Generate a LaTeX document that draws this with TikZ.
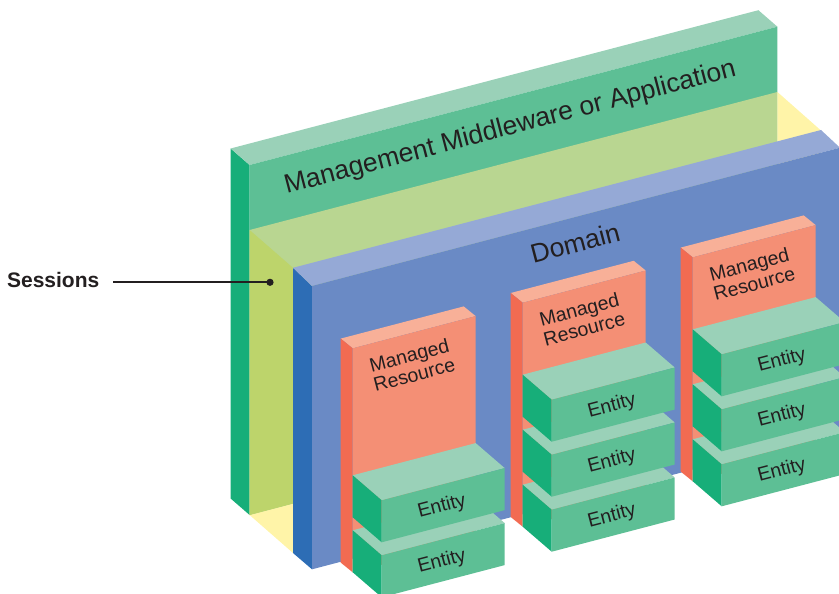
\documentclass[tikz,border=0pt]{standalone}
\usepackage{fontspec}
\setmainfont{Liberation Sans}
\definecolor{gfront}{HTML}{5DBF95}
\definecolor{gtop}{HTML}{9AD1B8}
\definecolor{gside}{HTML}{17AE79}
\definecolor{band}{HTML}{B9D691}
\definecolor{strip}{HTML}{BDD46B}
\definecolor{ylw}{HTML}{FFF4A8}
\definecolor{bfront}{HTML}{6A8AC5}
\definecolor{btop}{HTML}{95A9D6}
\definecolor{bside}{HTML}{2D6DB5}
\definecolor{rfront}{HTML}{F48F75}
\definecolor{rtop}{HTML}{F8B098}
\definecolor{rside}{HTML}{F26B52}
\definecolor{ink}{HTML}{231F20}
\tikzset{
  biglabel/.style={text=ink, inner sep=0pt, rotate=14.7, anchor=base, font=\fontsize{26.5pt}{28pt}\selectfont},
  entlabel/.style={text=ink, inner sep=0pt, rotate=14.7, anchor=base, font=\fontsize{19.5pt}{20pt}\selectfont},
  mrlabel/.style={text=ink, inner sep=0pt, rotate=14.7, anchor=center, align=center, font=\fontsize{19.5pt}{20pt}\selectfont},
  sesslabel/.style={text=ink, inner sep=0pt, anchor=base, font=\fontsize{21pt}{23pt}\selectfont\bfseries},
}
% managed resource: #1 name, (#2,#3) front top-left corner
\newcommand\mrbox[3]{%
  \begin{scope}[shift={(#2,#3)}]
    \fill[rtop] (-12,-9.7) -- ++(123,-32.2) -- ++(12,9.7) -- ++(-123,32.2) -- cycle;
    \fill[rside] (-12,-9.7) -- ++(12,9.7) -- ++(0,224) -- ++(-12,-9.7) -- cycle;
    \fill[rfront] (0,0) -- ++(123,-32.2) -- ++(0,224) -- ++(-123,32.2) -- cycle;
    \node[mrlabel] (#1) at (59,16.5) {Managed\\Resource};
  \end{scope}}
% entity: #1 name, (#2,#3) back top-left corner
\newcommand\entitybox[3]{%
  \begin{scope}[shift={(#2,#3)}]
    \fill[gtop] (0,0) -- ++(123,-32.2) -- ++(29,25) -- ++(-123,32.2) -- cycle;
    \fill[gside] (0,0) -- ++(29,25) -- ++(0,42) -- ++(-29,-25) -- cycle;
    \fill[gfront] (29,25) -- ++(123,-32.2) -- ++(0,42) -- ++(-123,32.2) -- cycle;
    \node[entlabel] (#1) at (90.5,36.5) {Entity};
  \end{scope}}
\begin{document}
\begin{tikzpicture}[x=1pt,y=-1pt]
\useasboundingbox (0,0) rectangle (839,594);
% Management middleware slab
\fill[gside] (230.6,148.5) -- (249.6,165) -- (249.6,515) -- (230.6,498.5) -- cycle;
\fill[gtop] (230.6,148.5) -- (758.4,10.2) -- (777.4,26.7) -- (249.6,165) -- cycle;
\fill[gfront] (249.6,165) -- (777.4,26.7) -- (777.4,376.7) -- (249.6,515) -- cycle;
% Sessions layer
\fill[band] (249.6,230) -- (777.4,92) -- (777.4,376.7) -- (249.6,515) -- cycle;
\fill[ylw] (777.4,92) -- (821,130.5) -- (821,414.5) -- (777.4,376.7) -- cycle;
\fill[ylw] (249.6,515) -- (777.4,376.7) -- (821,414.5) -- (293,553) -- cycle;
\fill[strip] (249.6,230) -- (293,267.8) -- (293,503.6) -- (249.6,515) -- cycle;
% Domain slab
\fill[bside] (293,267.8) -- (312,286) -- (312,569.3) -- (293,553) -- cycle;
\fill[btop] (293,267.8) -- (821,130) -- (840,147.7) -- (312,286) -- cycle;
\fill[bfront] (312,286) -- (840,147.7) -- (840,431) -- (312,569.3) -- cycle;
% column 3
\mrbox{mr3}{692.7}{257.3}
\entitybox{e33}{692.7}{439.3}
\entitybox{e32}{692.7}{384.3}
\entitybox{e31}{692.7}{329.3}
% column 2
\mrbox{mr2}{522.7}{302.7}
\entitybox{e23}{522.7}{484.7}
\entitybox{e22}{522.7}{429.7}
\entitybox{e21}{522.7}{374.7}
% column 1
\mrbox{mr1}{352.7}{348.3}
\entitybox{e12}{352.7}{530.3}
\entitybox{e11}{352.7}{475.3}
% labels
\node[biglabel] (mgmt) at (512,134.6) {Management Middleware or Application};
\node[biglabel] (domain) at (577.5,252.2) {Domain};
\node[sesslabel] (sess) at (53.2,287.3) {Sessions};
\coordinate (sstart) at (113.3,282.3);
\coordinate (sdot) at (270,282.3);
\draw[ink, line width=1.7pt] (sstart) -- (sdot);
\fill[ink] (sdot) circle (3.6);
\end{tikzpicture}
\end{document}
